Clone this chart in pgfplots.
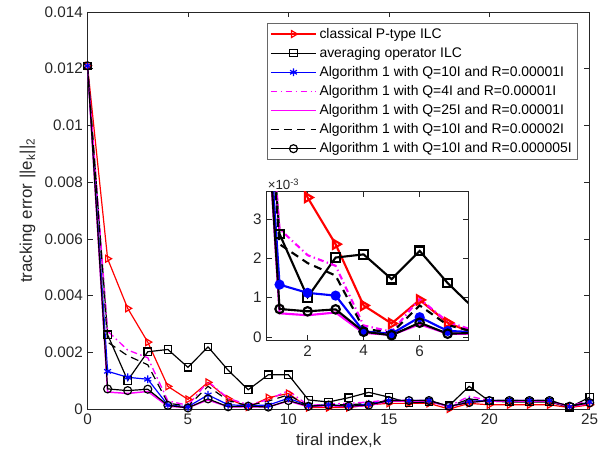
\documentclass[border=0pt]{standalone}
\usepackage{fontspec}
\setmainfont{Liberation Sans}
\usepackage{pgfplots}
\pgfplotsset{compat=1.18}
\usepackage{pgfplotstable}
\usetikzlibrary{calc}

\definecolor{axgray}{rgb}{0.15,0.15,0.15}
\definecolor{mag}{rgb}{1,0,1}

% tracking error per trial, one column per method
\pgfplotstableread{
k  p       avg     q10     q4      q25     r2      r05
0  0.01210 0.01210 0.01210 0.01210 0.01210 0.01210 0.01210
1  0.00530 0.00262 0.00133 0.00275 0.00060 0.00236 0.00071
2  0.00355 0.00101 0.00112 0.00208 0.00055 0.00188 0.00065
3  0.00236 0.00202 0.00105 0.00181 0.00062 0.00156 0.00070
4  0.00080 0.00210 0.00014 0.00029 0.00010 0.00021 0.00013
5  0.00034 0.00147 0.00008 0.00013 0.00005 0.00010 0.00004
6  0.00094 0.00219 0.00050 0.00097 0.00032 0.00080 0.00036
7  0.00036 0.00137 0.00015 0.00038 0.00008 0.00030 0.00008
8  0.00007 0.00068 0.00012 0.00015 0.00008 0.00012 0.00010
9  0.00040 0.00121 0.00014 0.00033 0.00008 0.00028 0.00007
10 0.00055 0.00121 0.00038 0.00065 0.00028 0.00050 0.00030
11 0.00005 0.00032 0.00012 0.00012 0.00008 0.00010 0.00010
12 0.00005 0.00025 0.00015 0.00018 0.00012 0.00015 0.00014
13 0.00005 0.00040 0.00012 0.00020 0.00008 0.00015 0.00010
14 0.00015 0.00059 0.00018 0.00025 0.00012 0.00020 0.00014
15 0.00020 0.00042 0.00030 0.00032 0.00028 0.00030 0.00030
16 0.00020 0.00022 0.00030 0.00030 0.00028 0.00030 0.00030
17 0.00020 0.00025 0.00030 0.00030 0.00028 0.00030 0.00030
18 0.00000 0.00012 0.00008 0.00010 0.00008 0.00010 0.00010
19 0.00020 0.00080 0.00028 0.00045 0.00025 0.00035 0.00023
20 0.00015 0.00028 0.00030 0.00030 0.00028 0.00030 0.00030
21 0.00015 0.00025 0.00030 0.00030 0.00028 0.00030 0.00030
22 0.00015 0.00025 0.00030 0.00030 0.00028 0.00030 0.00030
23 0.00015 0.00025 0.00030 0.00030 0.00028 0.00030 0.00030
24 0.00005 0.00006 0.00008 0.00010 0.00008 0.00010 0.00010
25 0.00015 0.00042 0.00025 0.00030 0.00020 0.00025 0.00022
}\errdata

\pgfplotsset{
  every axis/.append style={
    font=\fontsize{11.5}{13}\selectfont,
    /pgf/number format/assume math mode=true,
    axis line style={axgray},
    tick style={axgray, line width=0.5pt},
    major tick length=4pt,
    tick align=inside,
    ticklabel style={text=axgray},
    label style={text=axgray, font=\fontsize{12.7}{14}\selectfont},
  },
}

\begin{document}
\begin{tikzpicture}
\begin{axis}[
    name=main,
    scale only axis,
    width=378.75pt, height=299.5pt,
    xmin=0, xmax=25,
    ymin=0, ymax=0.014,
    xtick={0,5,10,15,20,25},
    ytick={0,0.002,0.004,0.006,0.008,0.01,0.012,0.014},
    scaled y ticks=false,
    yticklabel style={/pgf/number format/fixed, /pgf/number format/precision=3},
    xlabel={tiral index,k},
    ylabel={tracking error ||e\textsubscript{k}||\textsubscript{2}},
    every axis plot/.append style={line width=0.9pt},
    legend cell align=left,
    legend image code/.code={
      \draw[mark repeat=2,mark phase=2,#1] plot coordinates {(0cm,0cm) (0.6cm,0cm) (1.2cm,0cm)};
    },
    legend style={at={(0.9756,0.972)}, anchor=north east, draw=axgray!70,
      font=\fontsize{10.5}{12}\selectfont,
      line width=0.5pt, fill=white, row sep=1.3pt, inner xsep=2pt, inner ysep=1.5pt},
]
\addplot[red, mark=triangle, mark size=3pt, mark options={rotate=-90}] table[x=k,y=p]{\errdata};
\addlegendentry{classical P-type ILC}
\addplot[black, mark=square, mark size=2.8pt] table[x=k,y=avg]{\errdata};
\addlegendentry{averaging operator ILC}
\addplot[blue, mark=asterisk, mark size=3pt] table[x=k,y=q10]{\errdata};
\addlegendentry{Algorithm 1 with Q=10I and R=0.00001I}
\addplot[mag, line width=1pt, dash pattern=on 5pt off 2.5pt on 1.2pt off 2.5pt] table[x=k,y=q4]{\errdata};
\addlegendentry{Algorithm 1 with Q=4I and R=0.00001I}
\addplot[mag, line width=1.1pt] table[x=k,y=q25]{\errdata};
\addlegendentry{Algorithm 1 with Q=25I and R=0.00001I}
\addplot[black, dash pattern=on 6pt off 4pt] table[x=k,y=r2]{\errdata};
\addlegendentry{Algorithm 1 with Q=10I and R=0.00002I}
\addplot[black, mark=o, mark size=3pt] table[x=k,y=r05]{\errdata};
\addlegendentry{Algorithm 1 with Q=10I and R=0.000005I}
\end{axis}

% zoomed inset, trials 1 to 7
\begin{axis}[
    name=inset,
    at={($(main.south west)+(134.8pt,51.5pt)$)}, anchor=south west,
    scale only axis,
    width=152.25pt, height=112.5pt,
    xmin=0.525, xmax=7.73,
    ymin=-0.0001, ymax=0.0037,
    xtick={2,4,6},
    ytick={0,0.001,0.002,0.003},
    yticklabels={0,1,2,3},
    scaled y ticks=false,
    axis background/.style={fill=white},
    every axis plot/.append style={line width=1.6pt},
]
\addplot[red, mark=triangle, mark size=4pt, mark options={rotate=-90}] table[x=k,y=p]{\errdata};
\addplot[black, mark=square, mark size=3.3pt] table[x=k,y=avg]{\errdata};
\addplot[blue, mark=*, mark size=3pt] table[x=k,y=q10]{\errdata};
\addplot[mag, dash pattern=on 4.5pt off 2.5pt on 1pt off 2.5pt] table[x=k,y=q4]{\errdata};
\addplot[mag] table[x=k,y=q25]{\errdata};
\addplot[black, dash pattern=on 6pt off 4pt] table[x=k,y=r2]{\errdata};
\addplot[black, mark=o, mark size=3.2pt] table[x=k,y=r05]{\errdata};
\end{axis}
\node[anchor=south west, inner sep=1pt, text=axgray, font=\fontsize{10}{11}\selectfont]
  at (inset.north west) {×10\textsuperscript{-3}};

\pgfresetboundingbox
\path ($(main.south west)+(-66pt,-38pt)$) rectangle ($(main.north east)+(7pt,9pt)$);
\end{tikzpicture}
\end{document}
